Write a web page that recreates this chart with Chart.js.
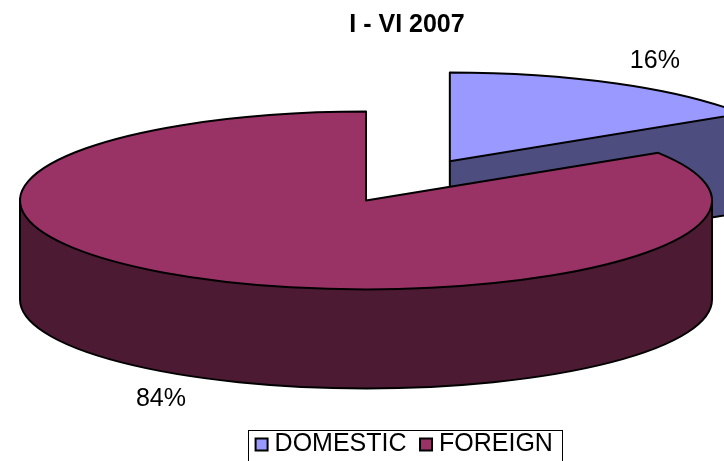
<!DOCTYPE html>
<html>
<head>
<meta charset="utf-8">
<script src="https://cdn.jsdelivr.net/npm/chart.js@4.4.0/dist/chart.umd.min.js"></script>
<style>
html, body { margin: 0; padding: 0; background: #fff; }
#wrap { width: 724px; height: 461px; }
</style>
</head>
<body>
<div id="wrap"><canvas id="pieChart"></canvas></div>
<script>
const chartTitle = 'I - VI 2007'
const categories = ['DOMESTIC', 'FOREIGN']
const shares = [16, 84]
const topColors = ['#9999FF', '#993366']
const sideColors = ['#4D4D80', '#4D1A33']
const explode = [174, 0]

// fake 3d look: flatten the pie and extrude it downwards
const tilt = 0.257
const depth = 99
const pieShift = { x: -41, y: -31 }
const fontFamily = 'Arial, "Liberation Sans", sans-serif'

const total = shares.reduce((a, b) => a + b, 0)
const percentText = shares.map(v => Math.round(v / total * 100) + '%')

function geometry(arc, i) {
	const p = arc.getProps(['x', 'y', 'startAngle', 'endAngle', 'outerRadius'], true)
	const mid = (p.startAngle + p.endAngle) / 2
	return {
		cx: p.x + pieShift.x + Math.cos(mid) * explode[i],
		cy: p.y + pieShift.y + Math.sin(mid) * explode[i] * tilt,
		rx: p.outerRadius,
		ry: p.outerRadius * tilt,
		start: p.startAngle,
		end: p.endAngle,
		mid: mid
	}
}

function rim(g, a) {
	return { x: g.cx + Math.cos(a) * g.rx, y: g.cy + Math.sin(a) * g.ry }
}

function sector(ctx, g) {
	ctx.beginPath()
	ctx.moveTo(g.cx, g.cy)
	ctx.ellipse(g.cx, g.cy, g.rx, g.ry, 0, g.start, g.end)
	ctx.closePath()
}

function drawSides(ctx, g, i) {
	const faces = []
	if (Math.cos(g.end) > 1e-6) faces.push(g.end)      // cut face at the end of the slice looks at us
	if (Math.cos(g.start) < -1e-6) faces.push(g.start)
	const a1 = Math.max(g.start, 0)
	const a2 = Math.min(g.end, Math.PI)
	const wall = a2 > a1

	ctx.save()
	ctx.fillStyle = sideColors[i]
	ctx.strokeStyle = '#000'
	ctx.lineWidth = 2
	ctx.lineJoin = 'round'

	ctx.beginPath()
	if (wall) {
		ctx.ellipse(g.cx, g.cy, g.rx, g.ry, 0, a1, a2)
		ctx.ellipse(g.cx, g.cy + depth, g.rx, g.ry, 0, a2, a1, true)
		ctx.closePath()
	}
	faces.forEach(a => {
		const p = rim(g, a)
		ctx.moveTo(g.cx, g.cy)
		ctx.lineTo(p.x, p.y)
		ctx.lineTo(p.x, p.y + depth)
		ctx.lineTo(g.cx, g.cy + depth)
		ctx.closePath()
	})
	ctx.fill()

	// outlines of the walls
	ctx.beginPath()
	if (wall) {
		const p1 = rim(g, a1)
		ctx.moveTo(p1.x, p1.y)
		ctx.lineTo(p1.x, p1.y + depth)
		ctx.ellipse(g.cx, g.cy + depth, g.rx, g.ry, 0, a1, a2)
		const p2 = rim(g, a2)
		ctx.lineTo(p2.x, p2.y)
	}
	faces.forEach(a => {
		const p = rim(g, a)
		ctx.moveTo(g.cx, g.cy)
		ctx.lineTo(g.cx, g.cy + depth)
		ctx.lineTo(p.x, p.y + depth)
		ctx.lineTo(p.x, p.y)
	})
	ctx.stroke()
	ctx.restore()
}

const pie3d = {
	id: 'pie3d',
	beforeDatasetsDraw(chart) {
		const ctx = chart.ctx
		const arcs = chart.getDatasetMeta(0).data
		arcs.forEach((arc, i) => {
			const g = geometry(arc, i)
			drawSides(ctx, g, i)

			// top face, drawn by the arc element itself
			ctx.save()
			ctx.translate(g.cx, g.cy)
			ctx.scale(1, tilt)
			ctx.translate(-arc.x, -arc.y)
			arc.draw(ctx)
			ctx.restore()

			ctx.save()
			ctx.strokeStyle = '#000'
			ctx.lineWidth = 2
			ctx.lineJoin = 'round'
			sector(ctx, g)
			ctx.stroke()
			ctx.restore()
		})
		return false
	},
	afterDraw(chart) {
		const ctx = chart.ctx
		ctx.save()
		ctx.fillStyle = '#000'
		ctx.font = '25px ' + fontFamily
		ctx.textAlign = 'center'
		ctx.textBaseline = 'middle'
		chart.getDatasetMeta(0).data.forEach((arc, i) => {
			const g = geometry(arc, i)
			const s = Math.sin(g.mid)
			const lx = g.cx + Math.cos(g.mid) * g.rx * 1.23
			const ly = g.cy + s * g.ry * 1.23 + (s > 0 ? depth : 0) + Math.sign(s) * 4
			ctx.fillText(percentText[i], lx, ly)
		})

		// frame round the legend
		const boxes = chart.legend.legendHitBoxes
		if (boxes && boxes.length) {
			const last = boxes[boxes.length - 1]
			const left = Math.round(boxes[0].left - 13)
			const right = Math.round(last.left + last.width + 9)
			const top = Math.round(boxes[0].top - 2)
			ctx.strokeStyle = '#000'
			ctx.lineWidth = 1
			ctx.strokeRect(left + 0.5, top + 0.5, right - left, 60)
		}
		ctx.restore()
	}
}

Chart.defaults.font.family = fontFamily
Chart.defaults.color = '#000'

new Chart(document.getElementById('pieChart').getContext('2d'), {
	type: 'pie',
	data: {
		labels: categories,
		datasets: [{
			data: shares,
			backgroundColor: topColors,
			borderWidth: 0,
			radius: 346
		}]
	},
	options: {
		responsive: true,
		maintainAspectRatio: false,
		animation: false,
		events: [],
		layout: { padding: { left: 90, right: 0, top: 0, bottom: -6 } },
		plugins: {
			title: {
				display: true,
				text: chartTitle,
				color: '#000',
				font: { size: 25, weight: 'bold' },
				padding: { top: 10, bottom: 10 }
			},
			legend: {
				position: 'bottom',
				labels: {
					usePointStyle: true,
					boxWidth: 1,
					boxHeight: 12,
					padding: 19,
					color: '#000',
					font: { size: 25 },
					generateLabels: () => categories.map((text, i) => ({
						text: text,
						fillStyle: topColors[i],
						strokeStyle: '#000',
						lineWidth: 2,
						pointStyle: 'rect',
						hidden: false,
						index: i
					}))
				}
			},
			tooltip: { enabled: false }
		}
	},
	plugins: [pie3d]
})
</script>
</body>
</html>
